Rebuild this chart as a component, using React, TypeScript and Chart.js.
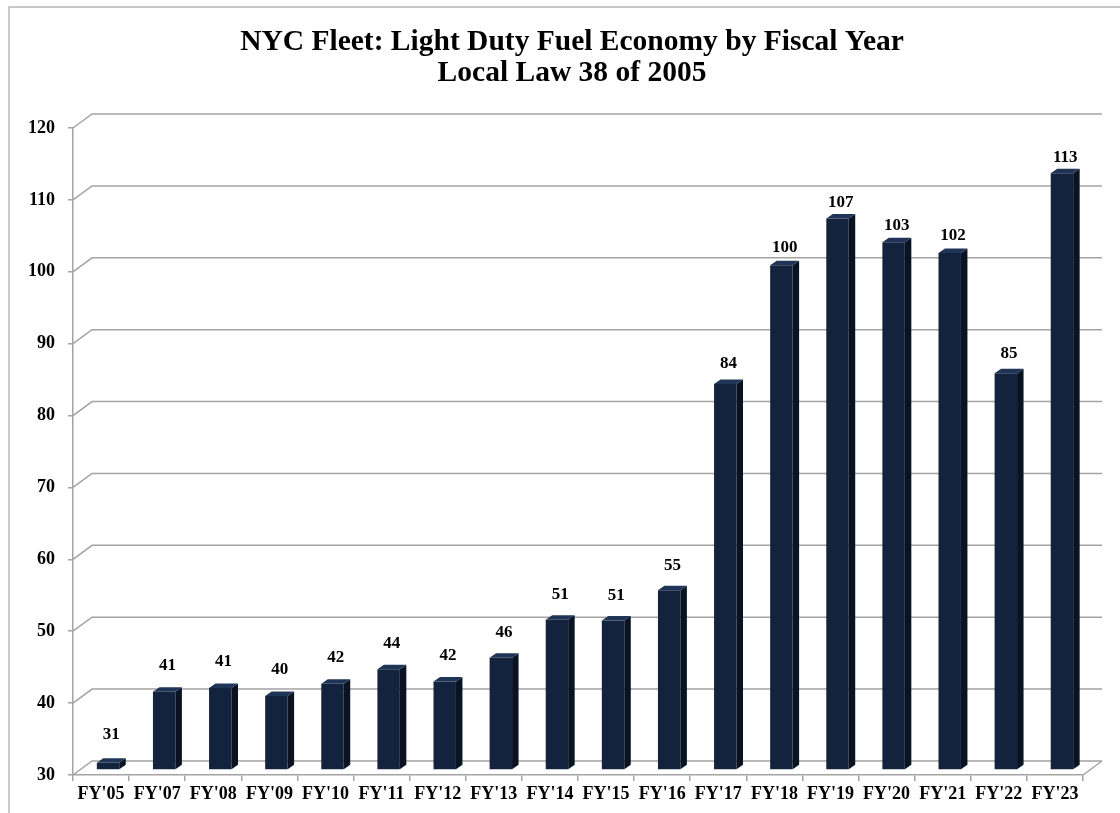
import React, { useEffect, useRef } from "react";
import { Chart, registerables } from "chart.js";

Chart.register(...registerables);

// ---- data ----
const categories = [
  "FY'05", "FY'07", "FY'08", "FY'09", "FY'10", "FY'11", "FY'12", "FY'13", "FY'14",
  "FY'15", "FY'16", "FY'17", "FY'18", "FY'19", "FY'20", "FY'21", "FY'22", "FY'23",
];
const fuelEconomy = [
  31.0, 40.9, 41.4, 40.3, 42.0, 44.0, 42.3, 45.6, 50.9,
  50.8, 55.0, 83.7, 100.2, 106.7, 103.4, 101.9, 85.2, 113.0,
];
const titleLines = [
  "NYC Fleet: Light Duty Fuel Economy by Fiscal Year",
  "Local Law 38 of 2005",
];
const yMin = 30;
const yMax = 120;
const yStep = 10;

// ---- styling ----
const FONT = "'Liberation Serif', 'Times New Roman', serif";
const GRID = "#a3a3a3";
const FRONT = "#13233d";
const SIDE = "#0a1322";
const TOP = "#1f3456";
const WALL_DX = 19;
const WALL_DY = -14;
const BAR_SHIFT_X = 7;
const BAR_SHIFT_Y = -5;
const BAR_DX = 6.5;
const BAR_DY = -4.5;

const excel3d = {
  id: "excel3d",
  beforeDraw(chart: any) {
    const { ctx, width, height } = chart;
    ctx.save();
    ctx.fillStyle = "#ffffff";
    ctx.fillRect(0, 0, width, height);
    ctx.strokeStyle = "#b8b8b8";
    ctx.lineWidth = 1.5;
    ctx.beginPath();
    ctx.moveTo(width, 7);
    ctx.lineTo(9, 7);
    ctx.lineTo(9, height);
    ctx.stroke();
    // title
    ctx.fillStyle = "#000000";
    ctx.font = `bold 29.5px ${FONT}`;
    ctx.textAlign = "center";
    ctx.textBaseline = "middle";
    titleLines.forEach((line, i) => {
      ctx.fillText(line, 572, 42 + i * 31);
    });
    ctx.restore();
  },
  beforeDatasetsDraw(chart: any) {
    const { ctx, chartArea, scales } = chart;
    const y = scales.y;
    const { left, right, bottom } = chartArea;
    ctx.save();
    ctx.strokeStyle = GRID;
    ctx.lineWidth = 1.5;
    y.ticks.forEach((t: any) => {
      const py = y.getPixelForValue(t.value);
      ctx.beginPath();
      ctx.moveTo(left, py);
      ctx.lineTo(left + WALL_DX, py + WALL_DY);
      ctx.lineTo(right + WALL_DX, py + WALL_DY);
      ctx.stroke();
    });
    ctx.beginPath();
    ctx.moveTo(right, bottom);
    ctx.lineTo(right + WALL_DX, bottom + WALL_DY);
    ctx.stroke();
    ctx.restore();
    ctx.save();
    ctx.translate(BAR_SHIFT_X, BAR_SHIFT_Y);
  },
  afterDatasetsDraw(chart: any) {
    const { ctx } = chart;
    ctx.restore();
    const meta = chart.getDatasetMeta(0);
    const values = chart.data.datasets[0].data as number[];
    ctx.save();
    meta.data.forEach((el: any, i: number) => {
      const { x, y, base, width } = el.getProps(["x", "y", "base", "width"], true);
      const l = x - width / 2 + BAR_SHIFT_X;
      const r = x + width / 2 + BAR_SHIFT_X;
      const t = y + BAR_SHIFT_Y;
      const b = base + BAR_SHIFT_Y;
      // side face
      ctx.fillStyle = SIDE;
      ctx.beginPath();
      ctx.moveTo(r, t);
      ctx.lineTo(r + BAR_DX, t + BAR_DY);
      ctx.lineTo(r + BAR_DX, b + BAR_DY);
      ctx.lineTo(r, b);
      ctx.closePath();
      ctx.fill();
      // top face
      ctx.fillStyle = TOP;
      ctx.beginPath();
      ctx.moveTo(l, t);
      ctx.lineTo(l + BAR_DX, t + BAR_DY);
      ctx.lineTo(r + BAR_DX, t + BAR_DY);
      ctx.lineTo(r, t);
      ctx.closePath();
      ctx.fill();
      // value label
      const v = values[i];
      const gap = 28 - (v - yMin) * 0.15;
      ctx.fillStyle = "#000000";
      ctx.font = `bold 17px ${FONT}`;
      ctx.textAlign = "center";
      ctx.textBaseline = "middle";
      ctx.fillText(String(Math.round(v)), (l + r + BAR_DX) / 2, t - gap);
    });
    ctx.restore();
  },
};

export default function App() {
  const canvasRef = useRef<HTMLCanvasElement | null>(null);

  useEffect(() => {
    if (!canvasRef.current) return;
    const chart = new Chart(canvasRef.current, {
      type: "bar",
      data: {
        labels: categories,
        datasets: [
          {
            label: "Fuel economy",
            data: fuelEconomy,
            base: yMin,
            backgroundColor: FRONT,
            borderWidth: 0,
            barPercentage: 0.4,
            categoryPercentage: 1.0,
            clip: false as any,
          } as any,
        ],
      },
      options: {
        animation: false,
        responsive: true,
        maintainAspectRatio: false,
        layout: { padding: { left: 0, right: 37, top: 128, bottom: 0 } },
        plugins: {
          legend: { display: false },
          tooltip: { enabled: false },
          title: { display: false },
        },
        scales: {
          x: {
            grid: {
              offset: true,
              drawOnChartArea: false,
              drawTicks: true,
              tickLength: 6,
              color: GRID,
              lineWidth: 1.5,
            },
            border: { display: true, color: GRID, width: 1.5 },
            ticks: {
              color: "#000000",
              font: { family: FONT, size: 18, weight: "bold" },
              maxRotation: 0,
              minRotation: 0,
              autoSkip: false,
              padding: 3,
            },
            afterFit(scale: any) {
              scale.height = 38;
            },
          },
          y: {
            min: yMin,
            max: yMax,
            grid: {
              drawOnChartArea: false,
              drawTicks: true,
              tickLength: 5,
              color: GRID,
              lineWidth: 1.5,
            },
            border: { display: true, color: GRID, width: 1.5 },
            ticks: {
              stepSize: yStep,
              color: "#000000",
              font: { family: FONT, size: 18, weight: "bold" },
              padding: 13,
            },
            afterFit(scale: any) {
              scale.width = 73;
            },
          },
        },
      },
      plugins: [excel3d],
    });
    return () => chart.destroy();
  }, []);

  return (
    <div style={{ position: "fixed", left: 0, top: 0, width: 1120, height: 813, background: "#fff" }}>
      <canvas ref={canvasRef} />
    </div>
  );
}
